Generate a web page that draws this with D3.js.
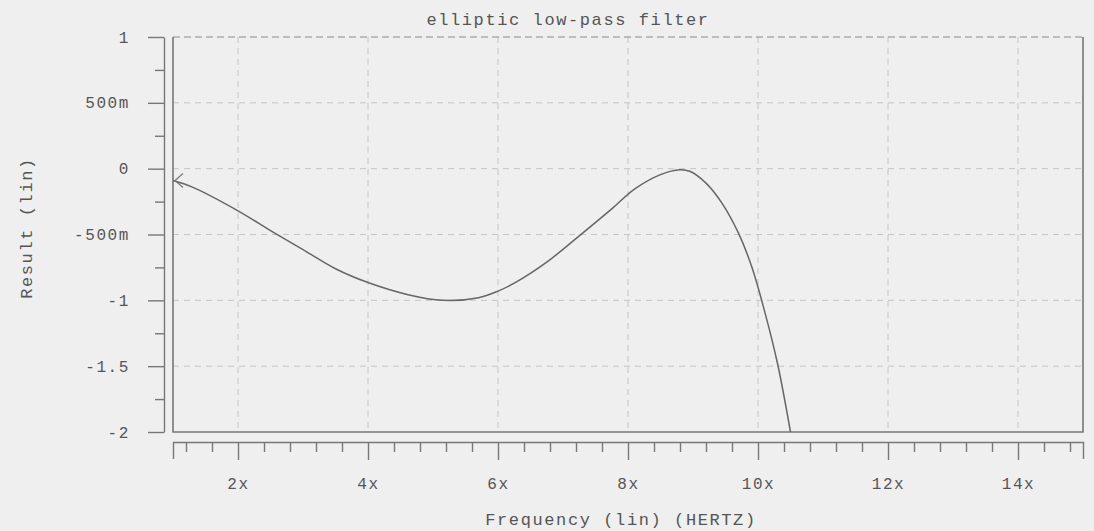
<!DOCTYPE html>
<html>
<head>
<meta charset="utf-8">
<script src="https://cdn.jsdelivr.net/npm/d3@7"></script>
<style>
  body { margin: 0; background: #efefef; }
  text { font-family: "Liberation Mono", "Courier New", monospace; fill: #555; }
</style>
</head>
<body>
<div id="chart"></div>
<script>
// frequency (Hz) and filter result
const freq   = [1, 1.3, 2, 2.5, 3, 3.5, 4, 4.6, 5.15, 5.7, 6.0, 6.25, 6.75, 7.25, 7.75, 8.1, 8.5, 8.8, 8.95, 9.2, 9.45, 9.7, 9.9, 10.1, 10.3, 10.5];
const result = [-0.09, -0.14, -0.32, -0.47, -0.615, -0.76, -0.865, -0.955, -1.0, -0.98, -0.93, -0.87, -0.71, -0.51, -0.305, -0.155, -0.045, -0.008, -0.02, -0.11, -0.265, -0.49, -0.74, -1.08, -1.48, -2.0];

const xTicks = [2, 4, 6, 8, 10, 12, 14];
const xTickLabels = ["2x", "4x", "6x", "8x", "10x", "12x", "14x"];
const yTicks = [1, 0.5, 0, -0.5, -1, -1.5, -2];
const yTickLabels = ["1", "500m", "0", "-500m", "-1", "-1.5", "-2"];

const W = 1094, H = 531;
const plot = { left: 173, right: 1083, top: 37, bottom: 432 };

const svg = d3.select("#chart").append("svg")
    .attr("width", W)
    .attr("height", H);

svg.append("rect")
    .attr("width", W)
    .attr("height", H)
    .attr("fill", "#efefef");

const x = d3.scaleLinear().domain([1, 15]).range([plot.left, plot.right]);
const y = d3.scaleLinear().domain([-2, 1]).range([plot.bottom, plot.top]);

// grid
svg.append("g").selectAll("line")
    .data(xTicks)
    .enter().append("line")
    .attr("x1", d => x(d)).attr("x2", d => x(d))
    .attr("y1", plot.top).attr("y2", plot.bottom)
    .attr("stroke", "#c4c4c4")
    .attr("stroke-dasharray", "6,5");

svg.append("g").selectAll("line")
    .data(yTicks.filter(d => d > -2 && d < 1))
    .enter().append("line")
    .attr("x1", plot.left).attr("x2", plot.right)
    .attr("y1", d => y(d)).attr("y2", d => y(d))
    .attr("stroke", "#c4c4c4")
    .attr("stroke-dasharray", "6,5");

// frame: dashed top, solid other sides
svg.append("line")
    .attr("x1", plot.left).attr("x2", plot.right)
    .attr("y1", y(1)).attr("y2", y(1))
    .attr("stroke", "#8a8a8a")
    .attr("stroke-dasharray", "7,4");

svg.append("path")
    .attr("d", `M${plot.left},${y(1)}V${y(-2)}H${plot.right}V${y(1)}`)
    .attr("fill", "none")
    .attr("stroke", "#777")
    .attr("stroke-width", 1.6);

// x axis below the plot
const xMinor = d3.range(3, 38).filter(i => i % 5 !== 0).map(i => i * 0.4);

svg.append("g")
    .attr("transform", `translate(0, 442)`)
    .call(d3.axisBottom(x)
        .tickValues(xTicks)
        .tickFormat((d, i) => xTickLabels[i])
        .tickSize(18)
        .tickSizeOuter(17)
        .tickPadding(18));

svg.append("g")
    .attr("transform", `translate(0, 442)`)
    .call(d3.axisBottom(x)
        .tickValues(xMinor)
        .tickFormat("")
        .tickSize(10)
        .tickSizeOuter(0))
    .select(".domain").remove();

// y axis left of the plot
const yMinor = [0.75, 0.25, -0.25, -0.75, -1.25, -1.75];

svg.append("g")
    .attr("transform", `translate(164, 0)`)
    .call(d3.axisLeft(y)
        .tickValues(yTicks)
        .tickFormat((d, i) => yTickLabels[i])
        .tickSize(16)
        .tickSizeOuter(0)
        .tickPadding(18));

svg.append("g")
    .attr("transform", `translate(164, 0)`)
    .call(d3.axisLeft(y)
        .tickValues(yMinor)
        .tickFormat("")
        .tickSize(9)
        .tickSizeOuter(0))
    .select(".domain").remove();

svg.selectAll(".domain, .tick line")
    .attr("stroke", "#777")
    .attr("stroke-width", 1.4);

svg.selectAll(".tick text")
    .style("font-family", "'Liberation Mono', 'Courier New', monospace")
    .style("font-size", "16px")
    .style("letter-spacing", "1.6px")
    .attr("fill", "#555");

// curve
const line = d3.line()
    .x((d, i) => x(freq[i]))
    .y(d => y(d))
    .curve(d3.curveCatmullRom.alpha(0.5));

svg.append("path")
    .datum(result)
    .attr("d", line)
    .attr("fill", "none")
    .attr("stroke", "#666")
    .attr("stroke-width", 1.5);

// start marker
const sx = x(freq[0]) + 2, sy = y(result[0]);
svg.append("path")
    .attr("d", `M${sx + 8},${sy - 7}L${sx},${sy}L${sx + 8},${sy + 7}`)
    .attr("fill", "none")
    .attr("stroke", "#777")
    .attr("stroke-width", 1.2);

// titles
svg.append("text")
    .attr("x", 568)
    .attr("y", 25)
    .attr("text-anchor", "middle")
    .style("font-size", "17px")
    .style("letter-spacing", "1.6px")
    .text("elliptic low-pass filter");

svg.append("text")
    .attr("x", 621)
    .attr("y", 525)
    .attr("text-anchor", "middle")
    .style("font-size", "17px")
    .style("letter-spacing", "1.6px")
    .text("Frequency (lin) (HERTZ)");

svg.append("text")
    .attr("transform", "translate(32, 228) rotate(-90)")
    .attr("text-anchor", "middle")
    .style("font-size", "17px")
    .style("letter-spacing", "1.6px")
    .text("Result (lin)");
</script>
</body>
</html>
